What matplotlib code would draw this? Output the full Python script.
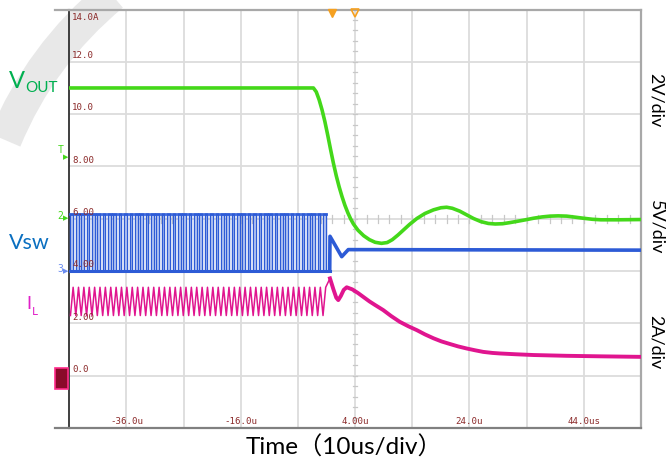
import numpy as np
import matplotlib
matplotlib.use('Agg')
import matplotlib.pyplot as plt
from matplotlib.patches import Rectangle, PathPatch
from matplotlib.path import Path

# ---------------- data ----------------
t_min, t_max = -46.0, 54.0          # us
v_min, v_max = -2.0, 14.0           # screen units (2 per division)
x_tick_pos = [-36, -16, 4, 24, 44]
x_tick_labels = ['-36.0u', '-16.0u', '4.00u', '24.0u', '44.0us']
y_tick_pos = [14, 12, 10, 8, 6, 4, 2, 0]
y_tick_labels = ['14.0A', '12.0', '10.0', '8.00', '6.00', '4.00', '2.00', '0.0']
grid_t = [-36, -26, -16, -6, 4, 14, 24, 34, 44]
grid_v = [0, 2, 4, 6, 8, 10, 12]

# VOUT (green)
vout_t = [-46, -3.3, -2.8, -2.3, -1.8, -1.3, -0.8, -0.3, 0.2, 0.7, 1.2, 1.7,
          2.2, 2.7, 3.2, 3.7, 4.5, 5.5, 6.5, 7.5, 8.6, 9.6, 10.5, 11.5, 12.5,
          13.5, 14.8, 16.2, 17.7, 19.0, 20.0, 21.0, 22.3, 23.5, 24.7, 26.0,
          27.3, 28.5, 29.8, 31.0, 32.3, 33.8, 35.2, 36.7, 38.1, 39.5, 41.0,
          42.5, 43.9, 45.5, 47.0, 50.0, 54.0]
vout_v = [11.0, 11.0, 10.85, 10.55, 10.17, 9.72, 9.2, 8.65, 8.12, 7.64, 7.22,
          6.85, 6.52, 6.24, 6.0, 5.8, 5.56, 5.35, 5.2, 5.1, 5.06, 5.09, 5.2,
          5.38, 5.58, 5.78, 6.01, 6.2, 6.34, 6.42, 6.44, 6.40, 6.29, 6.15,
          6.01, 5.89, 5.82, 5.80, 5.81, 5.85, 5.90, 5.96, 6.02, 6.07, 6.10,
          6.11, 6.10, 6.06, 6.02, 5.98, 5.96, 5.96, 5.97]

# VSW (blue): rising-edge times of the switching pulses, pulse width, levels
vsw_rise_t = [-45.8, -44.86, -43.92, -42.98, -42.04, -41.1, -40.16, -39.22,
              -38.28, -37.34, -36.4, -35.46, -34.52, -33.58, -32.64, -31.7,
              -30.76, -29.82, -28.88, -27.94, -27.0, -26.06, -25.12, -24.18,
              -23.24, -22.3, -21.36, -20.42, -19.48, -18.54, -17.6, -16.66,
              -15.72, -14.78, -13.84, -12.9, -11.96, -11.02, -10.08, -9.14,
              -8.2, -7.26, -6.32, -5.38, -4.44, -3.5, -2.56, -1.62]
vsw_width = 0.47
vsw_high = 6.2
vsw_low = 4.02
vsw_tail_t = [-0.45, -0.4, 1.65, 2.8, 54]
vsw_tail_v = [4.02, 5.33, 4.55, 4.82, 4.80]

# IL (magenta): ripple peak/trough during switching, then decay
il_peak = 3.38
il_trough = 2.3
il_tail_t = [-0.4, 0.2, 0.7, 1.05, 1.5, 2.0, 2.52, 3.5, 4.5, 5.5, 6.5, 7.5,
             8.9, 10.3, 11.8, 13.3, 14.8, 16.2, 17.7, 19.1, 20.6, 22.0, 23.5,
             25.0, 26.4, 28.0, 29.3, 32.0, 35.2, 41.0, 47.0, 54.0]
il_tail_v = [3.72, 3.3, 2.98, 2.89, 3.05, 3.28, 3.38, 3.30, 3.16, 3.0, 2.84,
             2.70, 2.51, 2.28, 2.06, 1.89, 1.74, 1.58, 1.43, 1.31, 1.21, 1.12,
             1.04, 0.97, 0.91, 0.87, 0.85, 0.82, 0.79, 0.76, 0.74, 0.72]

# ---------------- figure ----------------
W, H = 666, 462
fig = plt.figure(figsize=(W / 100, H / 100), dpi=100)
fig.patch.set_facecolor('white')


def fx(x):
    return x / W


def fy(y):
    return 1 - y / H


# watermark arc (light grey)
wm = '#e8e8e8'
verts = [(fx(112), fy(-5)), (fx(40), fy(55)), (fx(5), fy(140))]
p = Path(verts, [Path.MOVETO, Path.CURVE3, Path.CURVE3])
fig.add_artist(PathPatch(p, transform=fig.transFigure, fill=False,
                         edgecolor=wm, lw=24, zorder=0, capstyle='butt'))

ax = fig.add_axes([fx(69.3), fy(428), (641 - 69.3) / W, (428 - 9.5) / H])
ax.set_xlim(t_min, t_max)
ax.set_ylim(v_min, v_max)
ax.patch.set_alpha(0)
ax.set_xticks([])
ax.set_yticks([])
for s in ['top', 'right', 'bottom']:
    ax.spines[s].set_color('#a8a8a8')
    ax.spines[s].set_linewidth(1.6)
ax.spines['bottom'].set_color('#808080')
ax.spines['left'].set_color('#303030')
ax.spines['left'].set_linewidth(1.3)

gcol = '#dcdcdc'
for t in grid_t:
    ax.axvline(t, color=gcol, lw=1.3, zorder=1)
for v in grid_v:
    ax.axhline(v, color=gcol, lw=1.3, zorder=1)
# minor ticks on centre lines
for k in range(0, 41):
    v = v_min + k * 0.4
    if v_min < v < v_max:
        ax.plot([3.6, 4.4], [v, v], color='#c8c8c8', lw=0.9, zorder=1)
for k in range(0, 51):
    t = t_min + k * 2
    ax.plot([t, t], [5.85, 6.15], color='#c8c8c8', lw=0.9, zorder=1)

# tick labels
lab_col = '#8b2a2a'
mono = 'DejaVu Sans Mono'
for v, s in zip(y_tick_pos, y_tick_labels):
    if v == 14:
        ax.text(t_min + 0.5, v - 0.15, s, color=lab_col, fontsize=6.6,
                family=mono, ha='left', va='top', zorder=5)
    else:
        ax.text(t_min + 0.5, v + 0.07, s, color=lab_col, fontsize=6.6,
                family=mono, ha='left', va='bottom', zorder=5)
for t, s in zip(x_tick_pos, x_tick_labels):
    ax.text(t, v_min + 0.08, s, color=lab_col, fontsize=6.6, family=mono,
            ha='center', va='bottom', zorder=5)

# ---------- traces ----------
il_col = '#e0158f'
# IL ripple
il_x, il_y = [], []
for r in vsw_rise_t:
    il_x += [r, r + vsw_width]
    il_y += [il_trough, il_peak]
il_x += [il_tail_t[0]]
il_y += [il_tail_v[0]]
ax.plot(il_x, il_y, color=il_col, lw=1.1, zorder=3)
ax.plot(il_tail_t, il_tail_v, color=il_col, lw=2.8, zorder=3,
        solid_joinstyle='round')

# Vsw pulses
sw_col = '#2d5bd6'
sw_x, sw_y = [], []
for r in vsw_rise_t:
    sw_x += [r, r, r + vsw_width, r + vsw_width]
    sw_y += [vsw_low, vsw_high, vsw_high, vsw_low]
ax.fill_between(sw_x, vsw_low, sw_y, color='#c4d2f5', lw=0, zorder=2)
ax.plot(sw_x, sw_y, color=sw_col, lw=1.0, zorder=3)
ax.plot([vsw_rise_t[0], vsw_tail_t[0]], [vsw_low, vsw_low], color=sw_col,
        lw=2.2, zorder=3)
for r in vsw_rise_t:
    ax.plot([r, r + vsw_width], [vsw_high, vsw_high], color=sw_col, lw=2.0,
            zorder=3)
ax.plot(vsw_tail_t, vsw_tail_v, color=sw_col, lw=2.6, zorder=3)

# Vout
ax.plot(vout_t, vout_v, color='#44d81a', lw=2.6, zorder=4,
        solid_joinstyle='round')

# orange trigger markers
ax.plot([0], [13.85], marker='v', color='#f5a020', ms=6, clip_on=False,
        zorder=6)
ax.plot([4], [13.85], marker='v', mfc='none', mec='#f5a020', ms=6,
        mew=1.2, clip_on=False, zorder=6)

# left-side channel markers
fig.text(fx(61), fy(150), 'T', color='#44d81a', fontsize=7, ha='center',
         va='center', family=mono)
fig.text(fx(66), fy(157), '\u25B6', color='#44d81a', fontsize=5,
         ha='center', va='center')
fig.text(fx(60), fy(216), '2', color='#44d81a', fontsize=7, ha='center',
         va='center', family=mono)
fig.text(fx(66), fy(218), '\u25B6', color='#44d81a', fontsize=5,
         ha='center', va='center')
fig.text(fx(60), fy(269), '3', color='#6a8cf0', fontsize=7, ha='center',
         va='center', family=mono)
fig.text(fx(66), fy(271), '\u25B6', color='#6a8cf0', fontsize=5,
         ha='center', va='center')
fig.add_artist(Rectangle((fx(55), fy(389)), 13 / W, 21 / H,
                         transform=fig.transFigure, facecolor='#8a0a2a',
                         edgecolor='#ff2a8a', lw=1.2, zorder=6))

# top / bottom frame extensions to the left
fig.add_artist(plt.Line2D([fx(55), fx(69.3)], [fy(9.5), fy(9.5)],
                          color='#a8a8a8', lw=1.6))
fig.add_artist(plt.Line2D([fx(55), fx(69.3)], [fy(428), fy(428)],
                          color='#808080', lw=1.6))

# channel labels
sans = ['Lato', 'Noto Sans CJK SC', 'DejaVu Sans']
fig.text(fx(9), fy(88), 'V', color='#00b050', fontsize=17, family=sans,
         ha='left', va='baseline')
fig.text(fx(25), fy(92), 'OUT', color='#00b050', fontsize=11, family=sans,
         ha='left', va='baseline')
fig.text(fx(9), fy(249), 'Vsw', color='#0a6fc0', fontsize=15.5, family=sans,
         ha='left', va='baseline')
fig.text(fx(26), fy(309), 'I', color='#e020c8', fontsize=13, family=sans,
         ha='left', va='baseline')
fig.text(fx(32), fy(315), 'L', color='#e020c8', fontsize=8.5, family=sans,
         ha='left', va='baseline')

for yc, s in [(100, '2V/div'), (227, '5V/div'), (342, '2A/div')]:
    fig.text(fx(656), fy(yc), s, color='black', fontsize=13, family=sans,
             rotation=-90, ha='center', va='center')

fig.text(fx(344), fy(447), 'Time\uff0810us/div\uff09', color='black',
         fontsize=17.5, family=sans, ha='center', va='center')

fig.savefig('out.png', dpi=100, facecolor='white')
